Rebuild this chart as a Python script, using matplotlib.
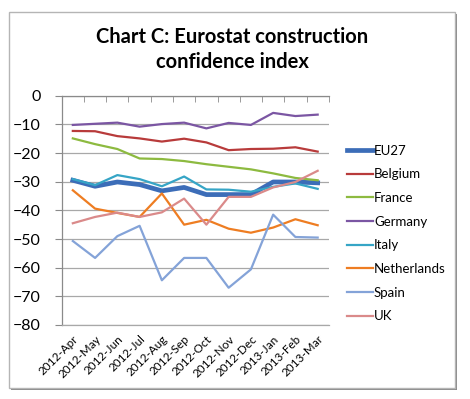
import matplotlib
matplotlib.use("Agg")
import matplotlib.pyplot as plt
from matplotlib.patches import Rectangle
from matplotlib.lines import Line2D
from matplotlib.ticker import FixedLocator

plt.rcParams['font.family'] = ['Lato', 'DejaVu Sans']

months = ["2012-Apr", "2012-May", "2012-Jun", "2012-Jul", "2012-Aug", "2012-Sep",
          "2012-Oct", "2012-Nov", "2012-Dec", "2013-Jan", "2013-Feb", "2013-Mar"]

eu27 = [-29.5, -31.6, -30.1, -31.0, -33.2, -32.0, -34.5, -34.5, -34.5, -30.1, -30.1, -30.4]
belgium = [-12.3, -12.4, -14.1, -14.9, -16.0, -15.0, -16.3, -19.0, -18.6, -18.5, -18.0, -19.5]
france = [-14.9, -16.9, -18.6, -21.9, -22.1, -22.8, -23.9, -24.8, -25.7, -27.1, -28.7, -29.5]
germany = [-10.2, -9.8, -9.4, -10.8, -9.9, -9.4, -11.4, -9.5, -10.2, -6.0, -7.1, -6.6]
italy = [-29.1, -31.2, -27.7, -29.1, -31.6, -28.2, -32.7, -32.8, -33.5, -31.8, -30.6, -32.5]
netherlands = [-33.0, -39.4, -40.9, -42.3, -34.1, -45.0, -43.3, -46.4, -47.8, -46.0, -43.1, -45.2]
spain = [-50.7, -56.6, -49.0, -45.4, -64.4, -56.6, -56.6, -67.0, -60.6, -41.5, -49.3, -49.5]
uk = [-44.5, -42.3, -40.8, -42.3, -40.7, -35.9, -45.0, -35.3, -35.3, -32.0, -30.1, -26.2]

series = [
    ("EU27", eu27, "#3C6DB8", 3.4),
    ("Belgium", belgium, "#B83B3B", 1.6),
    ("France", france, "#8DBA40", 1.6),
    ("Germany", germany, "#7B56A3", 1.6),
    ("Italy", italy, "#36A5C6", 1.6),
    ("Netherlands", netherlands, "#EE7D22", 1.6),
    ("Spain", spain, "#84A3D8", 1.6),
    ("UK", uk, "#DA8A8A", 1.6),
]

W, H = 470, 399
fig = plt.figure(figsize=(W / 100, H / 100), dpi=100)

# outer frame with shadow
fig.patches.append(Rectangle((11 / W, 1 - 390 / H), 446 / W, 376 / H, transform=fig.transFigure,
                             facecolor="#8a8a8a", edgecolor="none", zorder=0))
fig.patches.append(Rectangle((9 / W, 1 - 388 / H), 446 / W, 376 / H, transform=fig.transFigure,
                             facecolor="white", edgecolor="#b5b5b5", linewidth=1, zorder=1))

ax = fig.add_axes([61.7 / W, 1 - 325 / H, (328.8 - 61.7) / W, (325 - 95.7) / H])
ax.set_zorder(2)
ax.patch.set_alpha(0)

x = list(range(len(months)))
for name, vals, color, lw in series:
    ax.plot(x, vals, color=color, lw=lw, label=name, solid_joinstyle='round', zorder=3)

ax.set_xlim(-0.5, len(months) - 0.5)
ax.set_ylim(-80, 0)
ax.set_yticks(range(-80, 1, 10))
ax.yaxis.grid(True, color="#a8a8a8", lw=0.9)
ax.set_axisbelow(True)

ax.set_xticks(x)
ax.set_xticklabels(months, rotation=45, ha='right', va='top', rotation_mode='anchor', fontsize=8.5)
ax.xaxis.set_minor_locator(FixedLocator([i - 0.5 for i in range(len(months) + 1)]))
ax.tick_params(axis='x', which='major', length=0, pad=6)
ax.tick_params(axis='x', which='minor', bottom=False, top=True, direction='in', length=4, color="#8a8a8a")
ax.tick_params(axis='y', length=5, color="#8a8a8a", labelsize=11.5, pad=10)

for s in ["right"]:
    ax.spines[s].set_visible(False)
for s in ["left", "top", "bottom"]:
    ax.spines[s].set_color("#8a8a8a")
    ax.spines[s].set_linewidth(0.9)
ax.spines["bottom"].set_color("#a8a8a8")

fig.text(232 / W, 1 - 43.3 / H, "Chart C: Eurostat construction",
         ha='center', va='baseline', fontsize=14.5, fontweight='bold')
fig.text(232 / W, 1 - 68.3 / H, "confidence index",
         ha='center', va='baseline', fontsize=14.5, fontweight='bold')

handles = [Line2D([0], [0], color=c, lw=lw) for _, _, c, lw in series]
leg = fig.legend(handles, [s[0] for s in series], loc='upper left',
                 bbox_to_anchor=(335 / W, 1 - 133 / H), frameon=False, fontsize=9.5,
                 handlelength=2.0, handletextpad=0.05, labelspacing=0.88)

fig.savefig("out.png", dpi=100)
